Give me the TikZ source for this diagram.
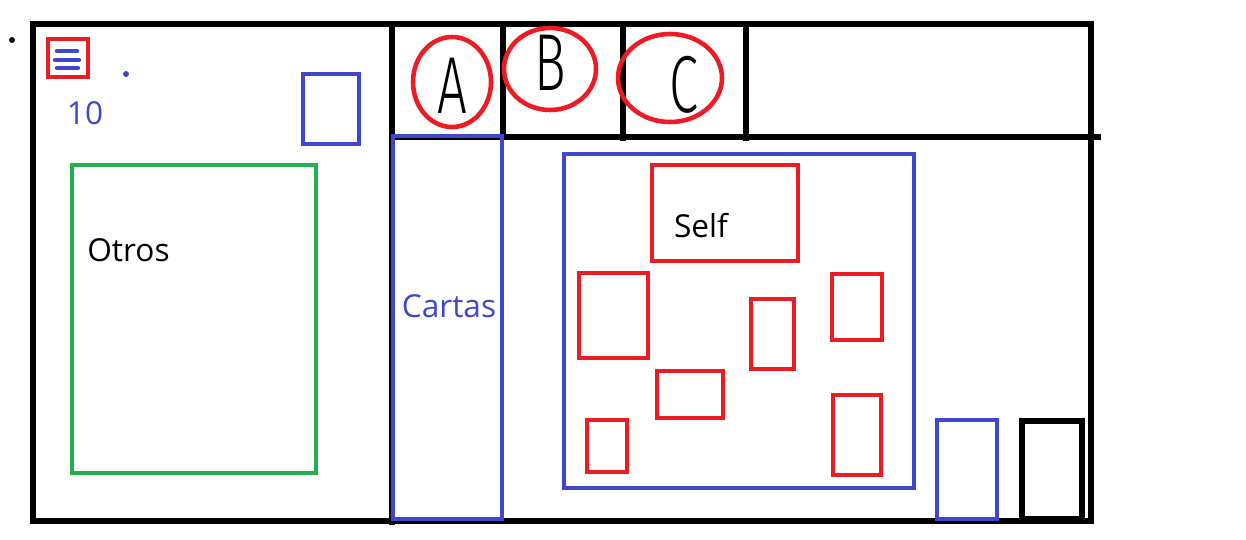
\documentclass[tikz,border=0pt]{standalone}
\usepackage{fontspec}
\setmainfont{Open Sans}
\newfontfamily\handfont{Fira Sans Light}
\definecolor{paintred}{RGB}{237,28,36}
\definecolor{paintblue}{RGB}{63,72,204}
\definecolor{paintgreen}{RGB}{34,177,76}

\begin{document}
\begin{tikzpicture}[
	x=0.02cm, y=-0.02cm,
	frame/.style={line width=2.9pt, black},
	redbox/.style={line width=2.6pt, paintred},
	bluebox/.style={line width=2.8pt, paintblue},
	greenbox/.style={line width=2.6pt, paintgreen},
	letter/.style={font=\handfont\fontsize{40}{44}\selectfont, xscale=0.75, yscale=1.15},
	every node/.style={font=\fontsize{18}{21}\selectfont, inner sep=0pt}
]
\useasboundingbox (0,0) rectangle (1246,540);

% outer frame and grid
\draw[frame] (33,24) rectangle (1091,521);
\draw[frame] (392,24) -- (392,525);
\draw[frame] (392,137) -- (1101,137);
\draw[frame] (503,24) -- (503,137);
\draw[frame] (623,24) -- (623,141);
\draw[frame] (746,24) -- (746,141);

% tabs
\draw[redbox] (452,82) ellipse [x radius=39, y radius=45];
\draw[redbox] (550,69) ellipse [x radius=46, y radius=41];
\draw[redbox] (670,78) ellipse [x radius=52, y radius=44];
\node[letter] (letA) at (452,86) {A};
\node[letter] (letB) at (550,63) {B};
\node[letter] (letC) at (684,85) {C};

% left panel
\fill (12,40) circle [radius=3];
\fill[paintblue] (126,74) circle [radius=3];
\draw[redbox] (48,39) rectangle (88,77);
\foreach \y/\a/\b in {51/57/77, 60/55/79, 68/57/78}
	\draw[paintblue, line width=2.5pt, line cap=round] (\a,\y) -- (\b,\y);
\node[paintblue] (ten) at (85,113) {10};
\draw[bluebox] (303,74) rectangle (359,144);
\draw[greenbox] (72,165) rectangle (316,473);
\node[anchor=west] (otros) at (87,250) {Otros};

% cards column
\draw[bluebox] (393,136) rectangle (502,519);
\node[paintblue] (cartas) at (449,306) {Cartas};

% board
\draw[bluebox] (564,154) rectangle (914,488);
\draw[redbox] (652,165) rectangle (798,261);
\node (self) at (701,226) {Self};
\foreach \a/\b/\c/\d in {579/273/648/358, 751/299/794/369, 832/274/882/340,
	657/371/723/418, 587/420/627/472, 833/395/881/475}
	\draw[redbox] (\a,\b) rectangle (\c,\d);

% bottom right
\draw[bluebox] (937,420) rectangle (997,519);
\draw[frame] (1022,421) rectangle (1082,519);
\end{tikzpicture}
\end{document}
